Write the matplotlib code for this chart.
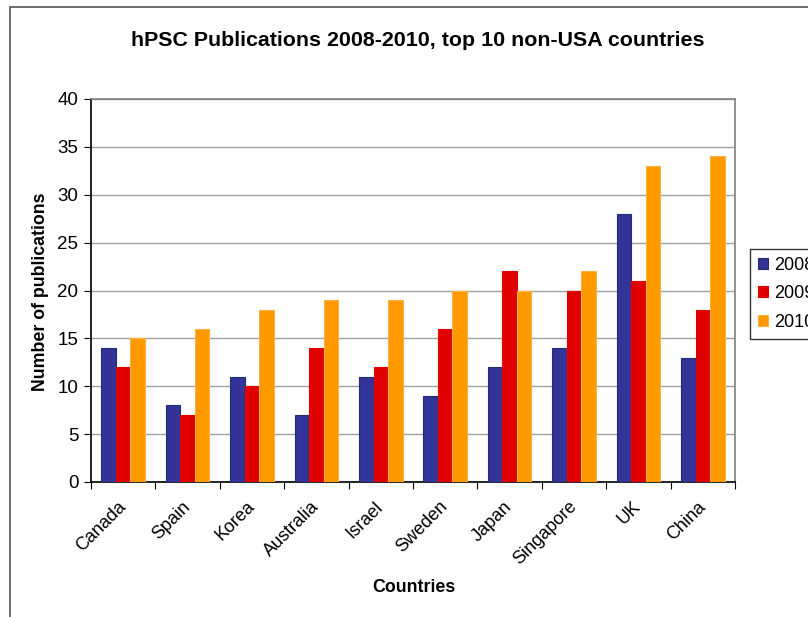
import matplotlib
matplotlib.use("Agg")
import matplotlib.pyplot as plt
import numpy as np
from matplotlib.patches import Rectangle

countries = ["Canada", "Spain", "Korea", "Australia", "Israel", "Sweden",
             "Japan", "Singapore", "UK", "China"]
years = ["2008", "2009", "2010"]
v2008 = [14, 8, 11, 7, 11, 9, 12, 14, 28, 13]
v2009 = [12, 7, 10, 14, 12, 16, 22, 20, 21, 18]
v2010 = [15, 16, 18, 19, 19, 20, 20, 22, 33, 34]
colors = ["#333399", "#E00000", "#FF9900"]
edges = ["#1F2F6F", "#E00000", "#FFB040"]

plt.rcParams['font.family'] = ['Liberation Sans', 'DejaVu Sans']

W, H = 808, 617
fig = plt.figure(figsize=(W/100, H/100), dpi=100)
fig.patch.set_facecolor("white")

# chart area border (extends off the right and bottom)
fig.add_artist(Rectangle((10/W, -0.1), 2.0, 1 - 7/H + 0.1, transform=fig.transFigure,
                         fill=False, edgecolor="#555555", linewidth=1.2))

left, right, top, bottom = 91, 735, 99, 482
ax = fig.add_axes([left/W, 1 - bottom/H, (right-left)/W, (bottom-top)/H])

x = np.arange(len(countries))
bw = 0.226
for i, (vals, c, ec, lab) in enumerate(zip([v2008, v2009, v2010], colors, edges, years)):
    ax.bar(x + (i - 1) * bw, vals, width=bw, color=c, edgecolor=ec, linewidth=0.8,
           label=lab, zorder=3)

ax.set_xlim(-0.5, len(countries) - 0.5)
ax.set_ylim(0, 40)
ax.set_yticks(range(0, 41, 5))
ax.yaxis.grid(True, color="#A0A0A0", linewidth=1.0, zorder=0)
ax.set_axisbelow(True)

ax.set_xticks(np.arange(-0.5, len(countries), 1.0), minor=False)
ax.set_xticklabels([])
ax.set_xticks(x, minor=True)
ax.set_xticklabels(countries, minor=True, rotation=45, ha="right", va="center",
                   rotation_mode="anchor", fontsize=13)
ax.tick_params(axis="x", which="minor", length=0, pad=16)
ax.tick_params(axis="x", which="major", length=5, direction="out", color="black")
ax.tick_params(axis="y", length=5, direction="out", labelsize=13.5, pad=4)

for s in ["top", "right"]:
    ax.spines[s].set_color("#808080")
    ax.spines[s].set_linewidth(1.2)
for s in ["left", "bottom"]:
    ax.spines[s].set_color("black")
    ax.spines[s].set_linewidth(1.2)

fig.text(418/W, 1 - 40/H, "hPSC Publications 2008-2010, top 10 non-USA countries",
         ha="center", va="center", fontsize=15.4, fontweight="bold")
fig.text(414/W, 1 - 587/H, "Countries", ha="center", va="center",
         fontsize=12.8, fontweight="bold")
fig.text(41/W, 1 - 292/H, "Number of publications", ha="center", va="center",
         rotation=90, fontsize=12.8, fontweight="bold")

leg = ax.legend(loc="upper left", bbox_to_anchor=(750/W, 1 - 249/H),
                bbox_transform=fig.transFigure, frameon=True, fancybox=False,
                fontsize=13, handlelength=0.55, handleheight=0.55, handletextpad=0.35,
                labelspacing=0.62, borderpad=0.45, borderaxespad=0)
leg.get_frame().set_edgecolor("black")
leg.get_frame().set_linewidth(1.0)

fig.savefig("out.png", dpi=100)
